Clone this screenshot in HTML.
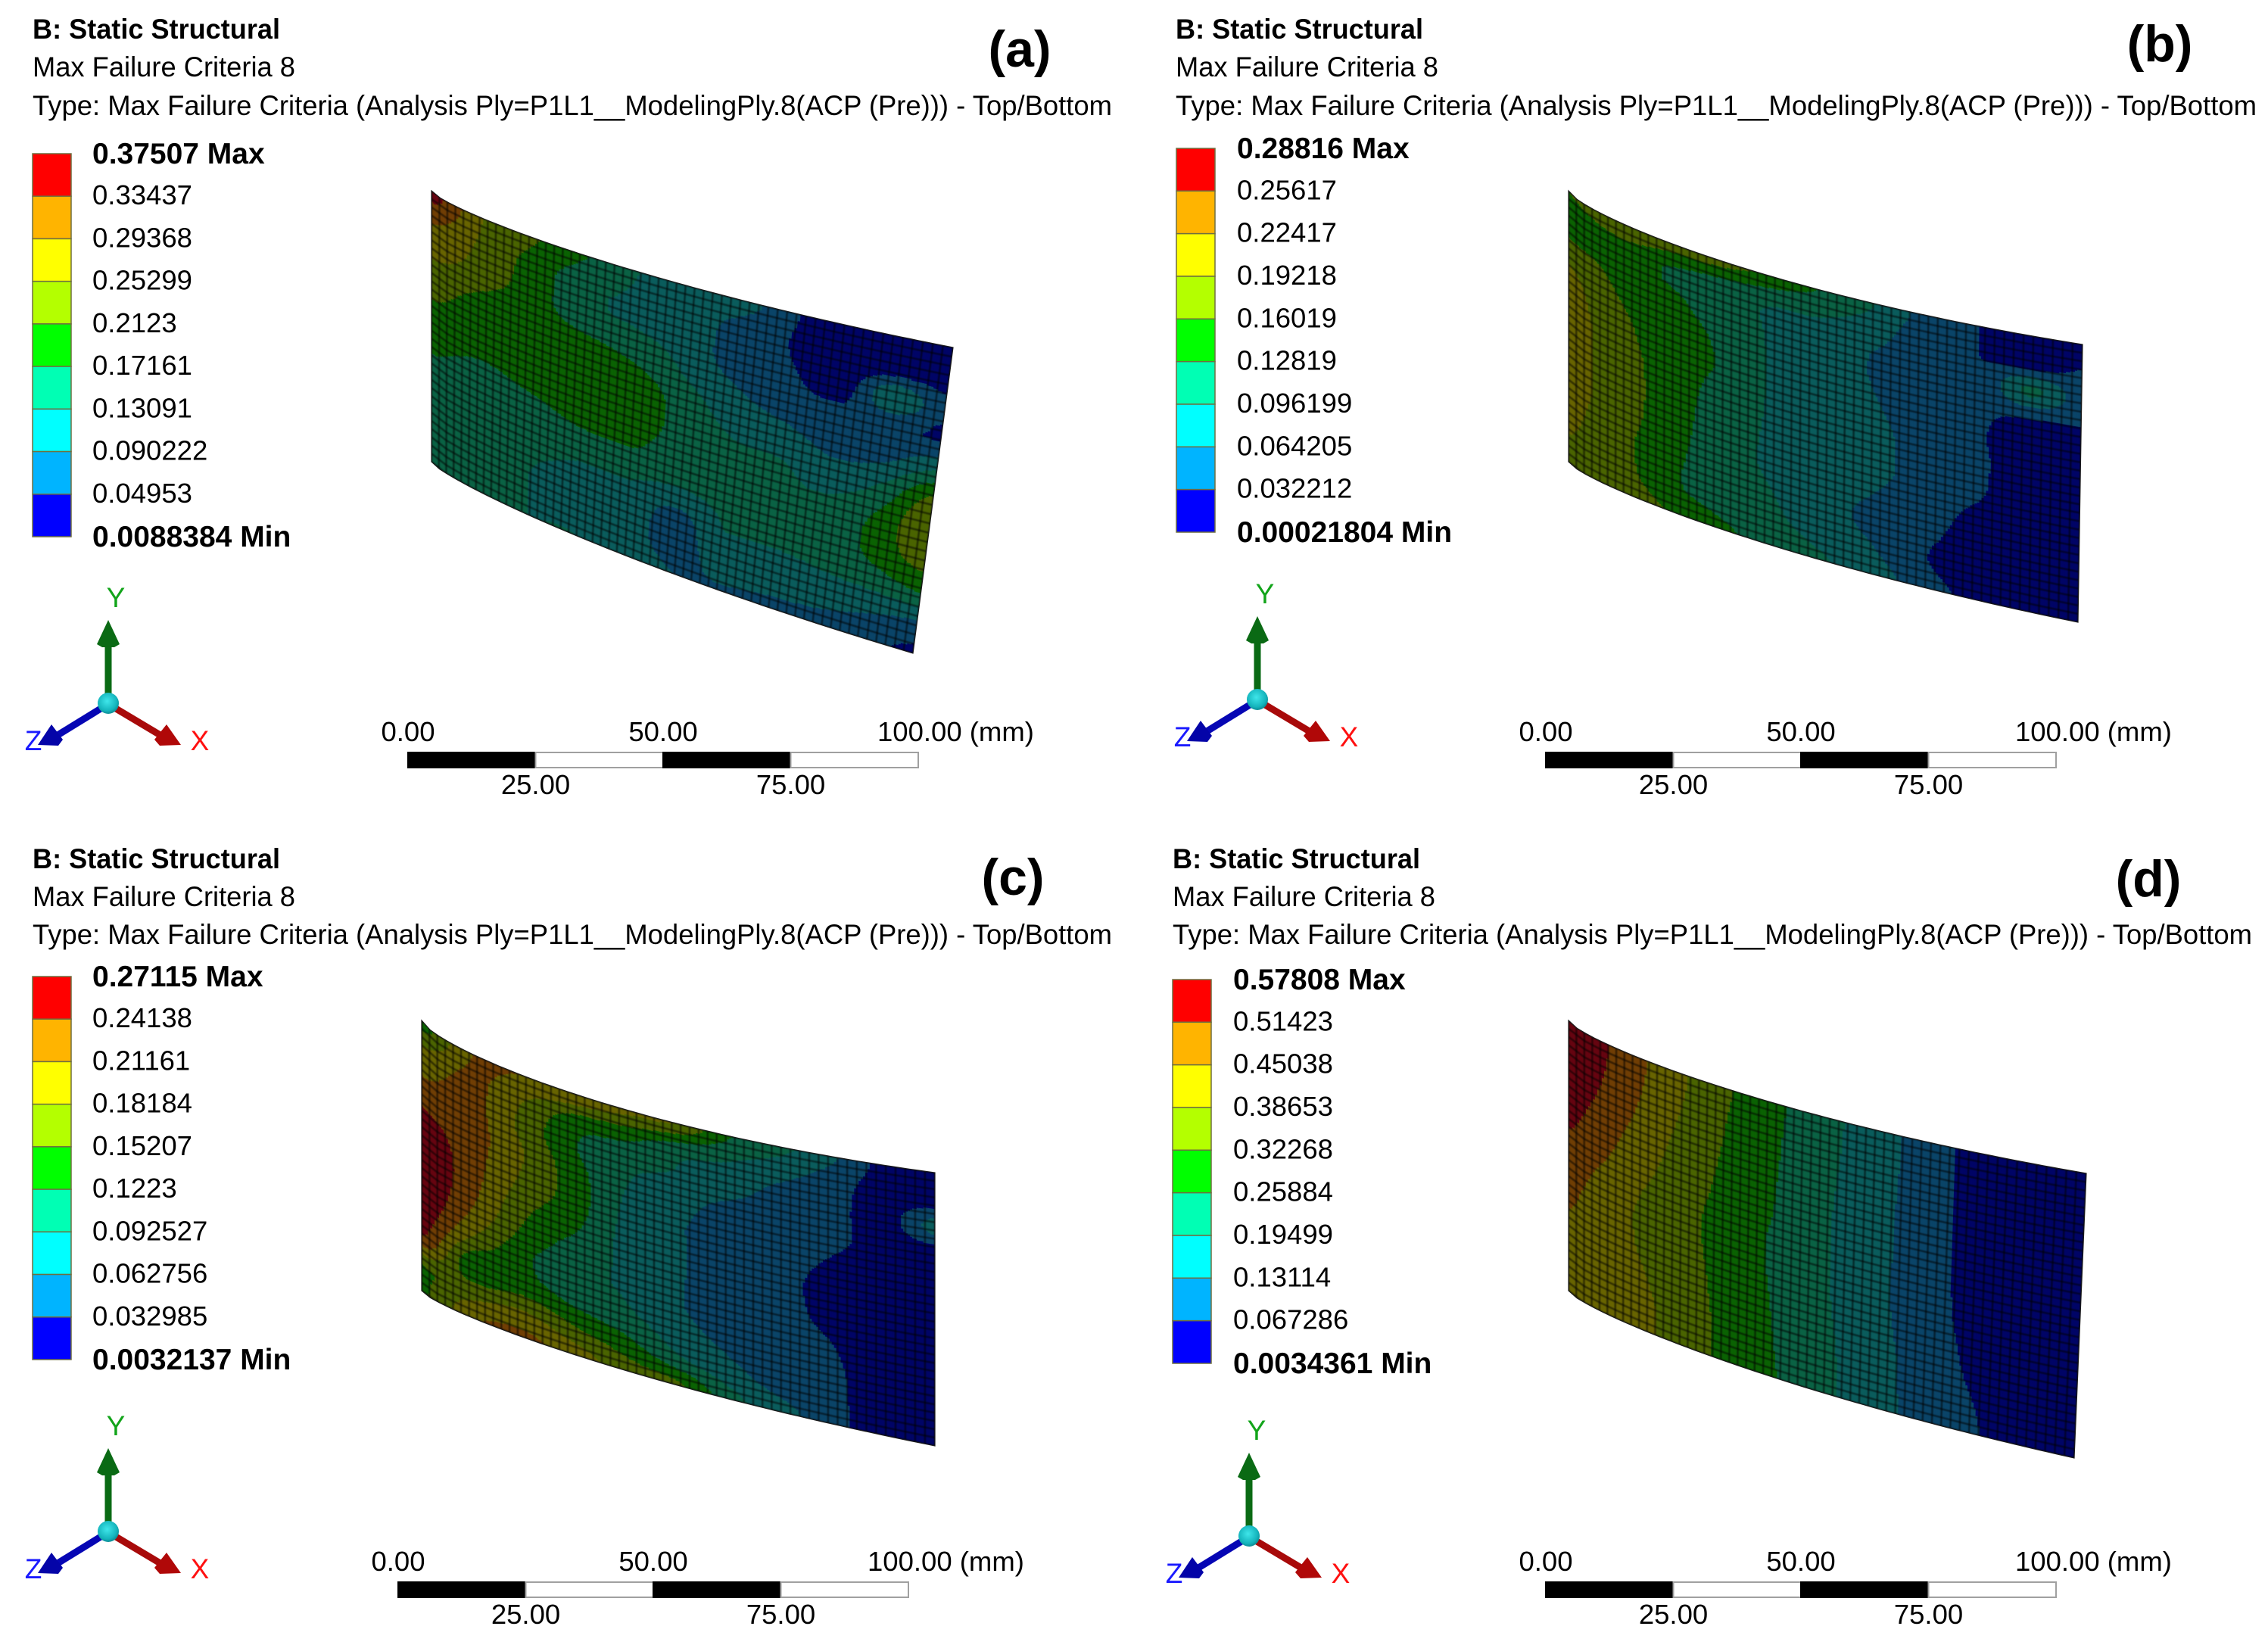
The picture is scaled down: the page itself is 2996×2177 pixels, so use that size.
<!DOCTYPE html>
<html lang="en">
<head>
<meta charset="utf-8">
<title>Max Failure Criteria contour plots (a)-(d)</title>
<style>
html,body{margin:0;padding:0;background:#fff;}
svg{display:block;}
text{font-family:"Liberation Sans",sans-serif;fill:#000;}
</style>
</head>
<body>
<svg id="figure" xmlns="http://www.w3.org/2000/svg" width="2996" height="2177" viewBox="0 0 2996 2177">
<defs>
<filter id="soft" x="-5%" y="-5%" width="110%" height="110%"><feGaussianBlur stdDeviation="0.9"/></filter>
<radialGradient id="sphere" cx="45%" cy="40%" r="65%"><stop offset="0" stop-color="#3fe6ea"/><stop offset="0.7" stop-color="#14b4bc"/><stop offset="1" stop-color="#0a7f88"/></radialGradient>
</defs>
<rect x="0" y="0" width="2996" height="2177" fill="#fff"/>

<g>
<text x="43" y="51" font-size="37" font-weight="700" textLength="327" lengthAdjust="spacingAndGlyphs">B: Static Structural</text>
<text x="43" y="101" font-size="37" textLength="347" lengthAdjust="spacingAndGlyphs">Max Failure Criteria 8</text>
<text x="43" y="152" font-size="37" textLength="1426" lengthAdjust="spacingAndGlyphs">Type: Max Failure Criteria (Analysis Ply=P1L1__ModelingPly.8(ACP (Pre))) - Top/Bottom</text>
<text x="1347" y="88" font-size="68" font-weight="700" text-anchor="middle">(a)</text>
</g>
<g>
<text x="1553" y="51" font-size="37" font-weight="700" textLength="327" lengthAdjust="spacingAndGlyphs">B: Static Structural</text>
<text x="1553" y="101" font-size="37" textLength="347" lengthAdjust="spacingAndGlyphs">Max Failure Criteria 8</text>
<text x="1553" y="152" font-size="37" textLength="1428" lengthAdjust="spacingAndGlyphs">Type: Max Failure Criteria (Analysis Ply=P1L1__ModelingPly.8(ACP (Pre))) - Top/Bottom</text>
<text x="2853" y="81" font-size="68" font-weight="700" text-anchor="middle">(b)</text>
</g>
<g>
<text x="43" y="1147" font-size="37" font-weight="700" textLength="327" lengthAdjust="spacingAndGlyphs">B: Static Structural</text>
<text x="43" y="1197" font-size="37" textLength="347" lengthAdjust="spacingAndGlyphs">Max Failure Criteria 8</text>
<text x="43" y="1247" font-size="37" textLength="1426" lengthAdjust="spacingAndGlyphs">Type: Max Failure Criteria (Analysis Ply=P1L1__ModelingPly.8(ACP (Pre))) - Top/Bottom</text>
<text x="1338" y="1182" font-size="68" font-weight="700" text-anchor="middle">(c)</text>
</g>
<g>
<text x="1549" y="1147" font-size="37" font-weight="700" textLength="327" lengthAdjust="spacingAndGlyphs">B: Static Structural</text>
<text x="1549" y="1197" font-size="37" textLength="347" lengthAdjust="spacingAndGlyphs">Max Failure Criteria 8</text>
<text x="1549" y="1247" font-size="37" textLength="1426" lengthAdjust="spacingAndGlyphs">Type: Max Failure Criteria (Analysis Ply=P1L1__ModelingPly.8(ACP (Pre))) - Top/Bottom</text>
<text x="2838" y="1184" font-size="68" font-weight="700" text-anchor="middle">(d)</text>
</g>
<g id="charts"></g>
</svg>

<script>
// Legend labels, top (Max) to bottom (Min).
const legendA = ["0.37507 Max","0.33437","0.29368","0.25299","0.2123","0.17161","0.13091","0.090222","0.04953","0.0088384 Min"];
const legendB = ["0.28816 Max","0.25617","0.22417","0.19218","0.16019","0.12819","0.096199","0.064205","0.032212","0.00021804 Min"];
const legendC = ["0.27115 Max","0.24138","0.21161","0.18184","0.15207","0.1223","0.092527","0.062756","0.032985","0.0032137 Min"];
const legendD = ["0.57808 Max","0.51423","0.45038","0.38653","0.32268","0.25884","0.19499","0.13114","0.067286","0.0034361 Min"];

// Legend band colours (top to bottom) and the shaded colour of the same bands on the mesh (bottom to top).
const legendColors = ["#ff0000","#ffb400","#ffff00","#b4ff00","#00ff00","#00ffb4","#00ffff","#00b4ff","#0000ff"];
const meshColors = ["#000466","#0a4468","#0a5c5c","#0a6244","#0a6202","#4a6400","#686400","#703e04","#660410"];

// Scale bar ticks in mm.
const scaleTicks = [0,25,50,75,100];

// Failure-criterion field, in legend-band units (0 = Min, 9 = Max).
// One row per position along the surface (left to right); each row runs top to bottom.
const fieldA = [
[8.5,7.2,6.5,5.5,5.0,4.4,4.0,3.5,3.3,3.3,3.2],
[6.0,5.8,5.5,4.8,4.5,4.1,3.6,3.3,3.2,3.1,3.1],
[5.1,4.6,4.5,4.4,4.4,4.3,3.8,3.4,3.05,3.0,3.0],
[4.05,3.3,3.2,4.2,4.5,4.4,4.1,3.2,2.8,2.8,3.0],
[3.0,2.9,3.0,3.8,4.6,4.7,4.2,3.2,2.8,2.6,2.8],
[2.9,2.6,2.6,2.9,3.5,3.6,3.3,3.0,1.7,1.5,2.0],
[2.5,1.6,1.4,2.0,2.6,3.1,3.4,3.2,3.0,2.6,1.9],
[1.1,0.95,1.1,1.5,2.2,3.0,3.2,3.2,3.0,2.6,1.7],
[0.4,0.2,0.5,1.3,1.7,2.4,3.2,3.2,3.1,2.5,1.6],
[0.2,0.2,2.8,1.2,1.8,3.2,4.2,4.4,3.5,2.2,1.3],
[0.2,0.5,1.3,0.9,2.9,5.2,6.0,5.4,4.1,1.9,0.8]
];
const fieldB = [
[5.0,4.0,5.5,6.2,6.4,6.5,6.5,6.4,6.2,6.0,5.8],
[6.0,4.4,4.7,5.05,5.3,5.4,5.4,5.4,5.3,5.4,5.6],
[5.5,3.9,4.2,4.5,4.5,4.6,4.6,4.5,4.3,4.2,4.9],
[5.4,3.4,3.5,3.8,3.9,3.6,3.4,3.3,3.3,3.6,4.2],
[4.7,3.1,2.9,2.9,2.9,2.9,2.9,2.9,3.0,3.2,3.6],
[3.9,3.0,2.6,2.5,2.5,2.5,2.5,2.5,2.4,2.6,3.1],
[3.0,2.4,1.9,1.95,2.1,2.3,2.3,2.0,1.7,2.0,2.4],
[1.6,1.3,1.3,1.4,1.5,1.5,1.5,1.4,1.2,1.05,1.5],
[1.0,1.0,1.1,1.15,1.1,1.2,1.15,0.8,0.6,0.35,0.6],
[0.3,0.4,3.2,1.05,0.5,0.3,0.2,0.2,0.2,0.2,0.2],
[0.3,1.05,1.5,1.0,0.3,0.2,0.2,0.2,0.2,0.2,0.2]
];
const fieldC = [
[4.5,6.2,7.0,7.9,8.6,8.9,8.9,8.6,7.9,5.0,4.8],
[7.0,7.2,7.3,7.4,7.4,7.3,6.9,5.9,4.3,5.5,6.8],
[7.0,6.0,5.7,6.0,5.8,5.3,4.8,4.2,4.4,6.0,7.2],
[7.0,4.6,4.05,4.4,4.5,4.2,3.6,3.3,3.8,5.1,6.5],
[6.3,4.3,3.3,3.0,2.8,2.7,2.8,2.9,3.3,4.4,5.5],
[6.0,3.4,2.9,2.4,2.1,2.1,2.1,2.1,2.5,3.2,5.2],
[4.1,3.0,2.4,1.6,1.5,1.5,1.5,1.5,1.8,2.4,3.4],
[3.3,2.3,1.6,1.4,1.4,1.3,1.3,1.3,1.3,1.6,2.4],
[2.2,1.5,1.4,1.3,0.9,0.6,0.7,1.0,1.2,1.3,1.4],
[0.7,0.5,0.5,0.5,0.3,0.2,0.2,0.2,0.3,0.3,0.3],
[0.2,0.3,2.4,0.3,0.2,0.2,0.2,0.2,0.2,0.2,0.2]
];
const fieldD = [
[9.0,8.9,8.6,8.3,8.0,7.5,7.2,7.0,6.8,6.7,6.6],
[7.7,7.6,7.4,7.1,6.8,6.4,6.2,6.2,6.3,6.4,6.5],
[6.4,6.3,6.1,5.9,5.7,5.5,5.5,5.6,5.7,5.8,5.8],
[5.2,5.1,5.0,4.9,4.8,4.7,4.7,4.75,4.8,4.85,4.85],
[4.2,4.15,4.1,4.05,4.0,3.9,3.9,3.95,4.0,4.05,4.1],
[3.3,3.25,3.2,3.15,3.1,3.1,3.1,3.15,3.2,3.25,3.25],
[2.4,2.4,2.35,2.3,2.3,2.25,2.25,2.3,2.4,2.4,2.45],
[1.45,1.45,1.45,1.45,1.45,1.45,1.45,1.5,1.55,1.6,1.65],
[0.6,0.6,0.6,0.6,0.6,0.6,0.65,0.75,0.85,1.0,1.1],
[0.3,0.3,0.3,0.3,0.3,0.3,0.3,0.3,0.3,0.3,0.3],
[0.2,0.2,0.2,0.2,0.2,0.2,0.2,0.2,0.2,0.2,0.2]
];

// Page layout of each panel.
const layoutA = {id:'a',legend:legendA,field:fieldA,barX:43,barTop:203,barH:506,labelX:122,tl:[570,252],tr:[1259,459],bl:[570,610],br:[1206,863],topSag:25,botSag:22,triad:[143,929],scaleX:539,scaleY:994};
const layoutB = {id:'b',legend:legendB,field:fieldB,barX:1554,barTop:196,barH:507,labelX:1634,tl:[2072,252],tr:[2751,455],bl:[2072,610],br:[2745,822],topSag:33,botSag:26,triad:[1661,924],scaleX:2042,scaleY:994};
const layoutC = {id:'c',legend:legendC,field:fieldC,barX:43,barTop:1290,barH:506,labelX:122,tl:[557,1348],tr:[1235,1549],bl:[557,1705],br:[1235,1910],topSag:38,botSag:24,triad:[143,2023],scaleX:526,scaleY:2090};
const layoutD = {id:'d',legend:legendD,field:fieldD,barX:1549,barTop:1294,barH:507,labelX:1629,tl:[2072,1348],tr:[2756,1550],bl:[2072,1705],br:[2740,1926],topSag:29,botSag:25,triad:[1650,2029],scaleX:2042,scaleY:2090};

const NS = 'http://www.w3.org/2000/svg';
const meshCols = 58, meshRows = 33, stripCount = 230, stepCount = 200;
const scaleWidth = 674;

function make(tag, parent) { const e = document.createElementNS(NS, tag); parent.appendChild(e); return e; }
function attrs(e, o) { for (const k in o) e.setAttribute(k, o[k]); return e; }

// Edge of the curved surface: a chord with a sag skewed toward the left end.
function edgePoint(a, b, sag, u) {
  const s = Math.pow(u, 0.6) * (1 - u) / 0.347;
  return [a[0] + u * (b[0] - a[0]), a[1] + u * (b[1] - a[1]) + sag * s];
}
function surfacePoint(L, u, v) {
  const t = edgePoint(L.tl, L.tr, L.topSag, u), b = edgePoint(L.bl, L.br, L.botSag, u);
  return [t[0] + v * (b[0] - t[0]), t[1] + v * (b[1] - t[1])];
}
// Perspective: mesh cells widen toward the right of the surface.
function meshU(t) { return 0.88 * t + 0.12 * t * t; }
// Catmull-Rom segment clamped to its end values so spikes do not ring into neighbours.
function cr(p0, p1, p2, p3, t) {
  const y = 0.5 * (2 * p1 + (p2 - p0) * t + (2 * p0 - 5 * p1 + 4 * p2 - p3) * t * t + (3 * p1 - p0 - 3 * p2 + p3) * t * t * t);
  return Math.max(Math.min(p1, p2), Math.min(Math.max(p1, p2), y));
}
function spline(arr, x) {
  const n = arr.length - 1, f = Math.min(n - 1e-6, Math.max(0, x * n)), i = Math.floor(f), t = f - i;
  return cr(arr[Math.max(0, i - 1)], arr[i], arr[i + 1], arr[Math.min(n, i + 2)], t);
}
function fieldAt(field, u, v) {
  const col = field.map(function (c) { return spline(c, v); });
  return spline(col, u);
}
function bandOf(level) { return Math.max(0, Math.min(legendColors.length - 1, Math.floor(level))); }
function pts(list) { return list.map(function (p) { return p[0].toFixed(1) + ',' + p[1].toFixed(1); }).join(' '); }
function outline(L) {
  const p = [];
  for (let i = 0; i <= 60; i++) p.push(surfacePoint(L, i / 60, 0));
  for (let i = 60; i >= 0; i--) p.push(surfacePoint(L, i / 60, 1));
  return p;
}

function drawSurface(L, root) {
  const g = make('g', root);
  
  
  const cp = make('clipPath', g);
  cp.setAttribute('id', 'clip-' + L.id);
  attrs(make('polygon', cp), { points: pts(outline(L)) });
  const fill = make('g', g);
  
  
  attrs(fill, { 'clip-path': 'url(#clip-' + L.id + ')' });
  for (let i = 0; i < stripCount; i++) {
    const u0 = i / stripCount, u1 = (i + 1) / stripCount, um = (u0 + u1) / 2;
    let start = 0, band = bandOf(fieldAt(L.field, um, 0.5 / stepCount));
    for (let j = 1; j <= stepCount; j++) {
      const b = j < stepCount ? bandOf(fieldAt(L.field, um, (j + 0.5) / stepCount)) : -1;
      if (b !== band) {
        const v0 = start / stepCount, v1 = j / stepCount;
        const poly = make('polygon', fill);
        
        
        attrs(poly, { points: pts([surfacePoint(L, u0, v0), surfacePoint(L, u1, v0), surfacePoint(L, u1, v1), surfacePoint(L, u0, v1)]), fill: meshColors[band], stroke: meshColors[band], 'stroke-width': 1.2 });
        start = j; band = b;
      }
    }
  }
  const clipWrap = make('g', g);
  attrs(clipWrap, { 'clip-path': 'url(#clip-' + L.id + ')' });
  const mesh = make('g', clipWrap);
  
  
  attrs(mesh, { fill: 'none', stroke: '#000', 'stroke-opacity': 0.55, 'stroke-width': 2.4, filter: 'url(#soft)' });
  for (let c = 0; c <= meshCols; c++) {
    const u = meshU(c / meshCols);
    attrs(make('polyline', mesh), { points: pts([surfacePoint(L, u, 0), surfacePoint(L, u, 1)]) });
  }
  for (let r = 0; r <= meshRows; r++) {
    const v = r / meshRows, line = [];
    for (let c = 0; c <= meshCols; c += 2) line.push(surfacePoint(L, meshU(c / meshCols), v));
    attrs(make('polyline', mesh), { points: pts(line) });
  }
  const edge = make('polygon', g);
  
  
  attrs(edge, { points: pts(outline(L)), fill: 'none', stroke: '#1a1a1a', 'stroke-width': 1.2 });
}

function drawLegend(L, root) {
  const g = make('g', root);
  
  
  const step = L.barH / (L.legend.length - 1);
  legendColors.forEach(function (col, i) {
    const r = make('rect', g);
    
    
    attrs(r, { x: L.barX, y: L.barTop + i * step, width: 51, height: step, fill: col, stroke: '#6f6f40', 'stroke-width': 1.5 });
  });
  L.legend.forEach(function (label, i) {
    const t = make('text', g);
    
    
    const bold = i === 0 || i === L.legend.length - 1;
    attrs(t, { x: L.labelX, y: L.barTop + i * step + (bold ? 13 : 11), 'font-size': bold ? 39 : 36.5, 'font-weight': bold ? 700 : 400 });
    t.textContent = label;
  });
}

function drawTriad(L, root) {
  const g = make('g', root);
  
  
  attrs(g, { transform: 'translate(' + L.triad[0] + ',' + L.triad[1] + ')' });
  attrs(make('rect', g), { x: -4.5, y: -78, width: 9, height: 78, fill: '#0a6a14' });
  attrs(make('polygon', g), { points: '0,-110 -15,-78 -8,-74 8,-74 15,-78', fill: '#0a6a14' });
  attrs(make('line', g), { x1: 5, y1: 4, x2: 72, y2: 44, stroke: '#a80a0a', 'stroke-width': 9 });
  attrs(make('polygon', g), { points: '96,55 77,28 61,48 68,56', fill: '#b00808' });
  attrs(make('line', g), { x1: -5, y1: 4, x2: -70, y2: 44, stroke: '#0606b4', 'stroke-width': 9 });
  attrs(make('polygon', g), { points: '-93,55 -75,28 -60,48 -66,56', fill: '#0404a8' });
  attrs(make('circle', g), { cx: 0, cy: 0, r: 14, fill: 'url(#sphere)' });
  const y = make('text', g);
  
  
  attrs(y, { x: 10, y: -127, 'font-size': 37, 'text-anchor': 'middle', style: 'fill:#12a41a' });
  y.textContent = 'Y';
  const x = make('text', g);
  
  
  attrs(x, { x: 121, y: 62, 'font-size': 37, 'text-anchor': 'middle', style: 'fill:#ff1010' });
  x.textContent = 'X';
  const z = make('text', g);
  
  
  attrs(z, { x: -99, y: 62, 'font-size': 37, 'text-anchor': 'middle', style: 'fill:#1a1aff' });
  z.textContent = 'Z';
}

function drawScale(L, root) {
  const g = make('g', root);
  
  
  const sx = function (mm) { return L.scaleX + mm / 100 * scaleWidth; };
  for (let i = 0; i < scaleTicks.length - 1; i++) {
    const r = make('rect', g);
    
    
    const dark = i % 2 === 0;
    attrs(r, { x: sx(scaleTicks[i]), y: L.scaleY, width: sx(scaleTicks[i + 1]) - sx(scaleTicks[i]), height: 20, fill: dark ? '#000' : '#fff', stroke: dark ? '#000' : '#a0a0a0', 'stroke-width': 2 });
  }
  scaleTicks.forEach(function (mm, i) {
    const t = make('text', g);
    
    
    const last = i === scaleTicks.length - 1;
    attrs(t, { x: last ? sx(mm) - 54 : sx(mm), y: i % 2 === 0 ? L.scaleY - 15 : L.scaleY + 55, 'font-size': 36.5, 'text-anchor': last ? 'start' : 'middle' });
    t.textContent = mm.toFixed(2) + (last ? ' (mm)' : '');
  });
}

const chartRoot = document.getElementById('charts');
[layoutA, layoutB, layoutC, layoutD].forEach(function (L) {
  drawSurface(L, chartRoot);
  drawLegend(L, chartRoot);
  drawTriad(L, chartRoot);
  drawScale(L, chartRoot);
});
</script>
</body>
</html>
